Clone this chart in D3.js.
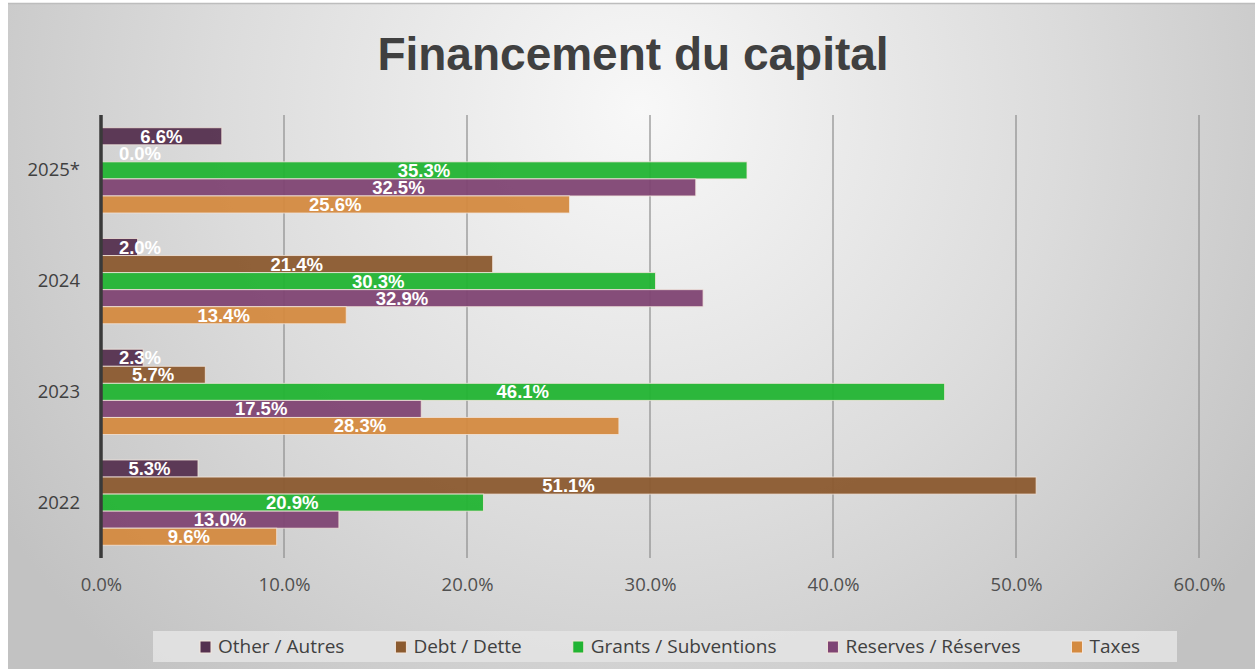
<!DOCTYPE html>
<html>
<head>
<meta charset="utf-8">
<script src="https://cdn.jsdelivr.net/npm/d3@7"></script>
<style>
  html, body { margin: 0; padding: 0; background: #fff; }
  svg { display: block; font-family: 'Open Sans', 'Liberation Sans', Arial, sans-serif; }
</style>
</head>
<body>
<svg id="chart" width="1255" height="669"></svg>
<script>
const years = ['2025*', '2024', '2023', '2022'];
const series = ['Other / Autres', 'Debt / Dette', 'Grants / Subventions', 'Reserves / Réserves', 'Taxes'];
const colors = ['#55304f', '#8b5a2f', '#22b433', '#7f4473', '#d48a40'];
const other = [6.6, 2.0, 2.3, 5.3];
const debt = [0.0, 21.4, 5.7, 51.1];
const grants = [35.3, 30.3, 46.1, 20.9];
const reserves = [32.5, 32.9, 17.5, 13.0];
const taxes = [25.6, 13.4, 28.3, 9.6];
const xTicks = [0, 10, 20, 30, 40, 50, 60];

const values = [other, debt, grants, reserves, taxes];
const textFont = "'Open Sans', 'Liberation Sans', Arial, sans-serif";
const labelFont = "'Liberation Sans', Arial, sans-serif";

const svg = d3.select('#chart'),
  width = +svg.attr('width'),
  height = +svg.attr('height');

// background panel with soft radial shading
const defs = svg.append('defs');
const grad = defs.append('radialGradient')
  .attr('id', 'bg')
  .attr('gradientUnits', 'userSpaceOnUse')
  .attr('cx', 640).attr('cy', 110)
  .attr('r', 760);
grad.append('stop').attr('offset', 0).attr('stop-color', '#f8f8f8');
grad.append('stop').attr('offset', 0.55).attr('stop-color', '#dcdcdc');
grad.append('stop').attr('offset', 1).attr('stop-color', '#c2c2c2');

svg.append('rect')
  .attr('x', 8).attr('y', 3)
  .attr('width', width - 8).attr('height', height - 3)
  .attr('fill', 'url(#bg)');
svg.append('line')
  .attr('x1', 8).attr('x2', width)
  .attr('y1', 3.5).attr('y2', 3.5)
  .attr('stroke', '#bdbdbd')
  .attr('stroke-width', 1.5);

svg.append('text')
  .attr('x', 633)
  .attr('y', 70)
  .attr('text-anchor', 'middle')
  .attr('font-family', labelFont)
  .attr('font-size', 46)
  .attr('font-weight', 'bold')
  .attr('fill', '#404040')
  .text('Financement du capital');

const x = d3.scaleLinear().domain([0, 60]).range([101, 1199]);
const y0 = d3.scaleBand().domain(years).range([115, 558])
  .paddingInner(0.23).paddingOuter(0.115);
const y1 = d3.scaleBand().domain(series).range([0, y0.bandwidth()]);

// gridlines
svg.append('g')
  .selectAll('line')
  .data(xTicks.slice(1))
  .enter().append('line')
  .attr('x1', d => x(d)).attr('x2', d => x(d))
  .attr('y1', 115).attr('y2', 558)
  .attr('stroke', '#8c8c8c')
  .attr('stroke-width', 1.2);

// x axis labels
const xAxis = svg.append('g')
  .attr('transform', 'translate(0,558)')
  .call(d3.axisBottom(x).tickValues(xTicks).tickFormat(d => d.toFixed(1) + '%').tickSize(0).tickPadding(20));
xAxis.select('.domain').remove();
xAxis.selectAll('text')
  .attr('font-size', 18.5)
  .attr('font-family', textFont)
  .attr('fill', '#505050');

// y axis labels
const yAxis = svg.append('g')
  .attr('transform', 'translate(101,0)')
  .call(d3.axisLeft(y0).tickSize(0).tickPadding(21));
yAxis.select('.domain').remove();
yAxis.selectAll('text')
  .attr('font-size', 18.5)
  .attr('font-family', textFont)
  .attr('fill', '#404040');

// bars
const rows = [];
years.forEach(function(year, i) {
  series.forEach(function(s, j) {
    rows.push({ year, series: s, value: values[j][i], colour: colors[j] });
  });
});

svg.append('g')
  .selectAll('rect')
  .data(rows)
  .enter().append('rect')
  .attr('x', x(0))
  .attr('y', d => y0(d.year) + y1(d.series))
  .attr('width', d => x(d.value) - x(0))
  .attr('height', y1.bandwidth())
  .attr('fill', d => d.colour)
  .attr('fill-opacity', 0.95)
  .attr('stroke', '#f3e6dc')
  .attr('stroke-opacity', 0.8)
  .attr('stroke-width', d => d.value > 0 ? 1 : 0);

// y axis line
svg.append('line')
  .attr('x1', x(0)).attr('x2', x(0))
  .attr('y1', 115).attr('y2', 558)
  .attr('stroke', '#3a3a3a')
  .attr('stroke-width', 3.5);

// value labels
svg.append('g')
  .selectAll('text')
  .data(rows)
  .enter().append('text')
  .attr('x', d => Math.max((x(d.value) + x(0)) / 2, x(0) + 39))
  .attr('y', d => y0(d.year) + y1(d.series) + y1.bandwidth() / 2 + 6.5)
  .attr('text-anchor', 'middle')
  .attr('font-family', labelFont)
  .attr('font-size', 18.5)
  .attr('font-weight', 'bold')
  .attr('fill', '#ffffff')
  .text(d => d.value.toFixed(1) + '%');

// legend
svg.append('rect')
  .attr('x', 153).attr('y', 631)
  .attr('width', 1024).attr('height', 31)
  .attr('fill', '#e4e4e4')
  .attr('fill-opacity', 0.85);

const legend = svg.append('g');
let lx = 200;
series.forEach(function(s, i) {
  const item = legend.append('g').attr('transform', 'translate(' + lx + ',0)');
  item.append('rect')
    .attr('x', 0).attr('y', 641)
    .attr('width', 11).attr('height', 12)
    .attr('fill', colors[i])
    .attr('stroke', '#f3e6dc')
    .attr('stroke-width', 1);
  const t = item.append('text')
    .attr('x', 18).attr('y', 653)
    .attr('font-family', textFont)
    .attr('font-size', 19)
    .attr('fill', '#404040')
    .text(s);
  lx += 18 + t.node().getComputedTextLength() + 51;
});
</script>
</body>
</html>
